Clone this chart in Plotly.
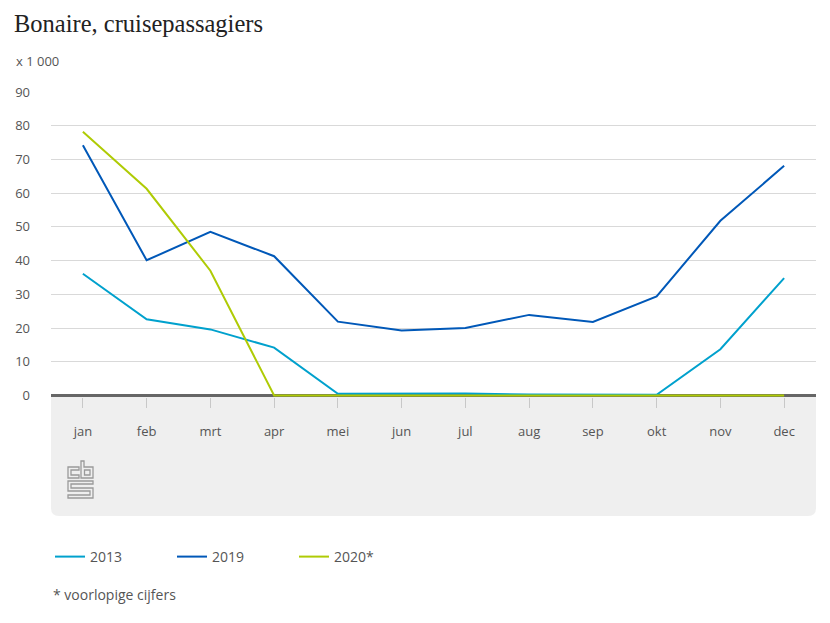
import plotly.graph_objects as go

# ---- data ----
months = ["jan", "feb", "mrt", "apr", "mei", "jun", "jul", "aug", "sep", "okt", "nov", "dec"]
y2013 = [36.1, 22.6, 19.6, 14.2, 0.5, 0.5, 0.6, 0.3, 0.2, 0.2, 13.7, 34.8]
y2019 = [74.2, 40.1, 48.5, 41.3, 21.9, 19.3, 20.0, 23.9, 21.8, 29.4, 51.8, 68.1]
y2020 = [78.2, 61.3, 37.0, 0.0, 0.0, 0.0, 0.0, 0.0, 0.0, 0.0, 0.0, 0.0]
series_names = ["2013", "2019", "2020*"]
series_colors = ["#00a1cd", "#0058b8", "#afcb05"]
y_ticks = [0, 10, 20, 30, 40, 50, 60, 70, 80, 90]

OFF = 8  # page body margin
W, H = 830 - 2 * OFF, 623 - 2 * OFF

def f(v):
    return v - OFF

L, R, T, B = f(51), f(816), f(92), f(397)

def px(x):
    return (f(x) - L) / (R - L)

def py(y):
    return (B - f(y)) / (B - T)

fig = go.Figure()
for name, vals, col in zip(series_names, [y2013, y2019, y2020], series_colors):
    fig.add_trace(go.Scatter(x=list(range(len(months))), y=vals, mode="lines", name=name,
                             line=dict(color=col, width=2), hoverinfo="skip"))

# gray box below the plot
bb = 516
r = 8
box = (f"M {px(51)},{py(397)} L {px(816)},{py(397)} L {px(816)},{py(bb - r)} "
       f"Q {px(816)},{py(bb)} {px(816 - r)},{py(bb)} L {px(51 + r)},{py(bb)} "
       f"Q {px(51)},{py(bb)} {px(51)},{py(bb - r)} Z")
shapes = [dict(type="path", xref="paper", yref="paper", path=box,
               fillcolor="#efefef", line=dict(width=0), layer="below")]

# CBS logo (outline)
ox, oy = 68, 461
def lp(pts, close=True):
    s = "M " + " L ".join(f"{px(ox + a)},{py(oy + b)}" for a, b in pts)
    return s + (" Z" if close else "")
logo_paths = [
    lp([(11, 6), (0, 6), (0, 17), (11, 17), (11, 14), (3, 14), (3, 9), (11, 9)]),
    lp([(13, 0), (16, 0), (16, 6), (25, 6), (25, 17), (13, 17)]),
    lp([(16.5, 9), (22, 9), (22, 14), (16.5, 14)]),
    lp([(25, 20), (0, 20), (0, 30), (22, 30), (22, 34), (0, 34), (0, 37), (25, 37),
        (25, 27), (3, 27), (3, 23), (25, 23)]),
]
for p in logo_paths:
    shapes.append(dict(type="path", xref="paper", yref="paper", path=p,
                       line=dict(color="#9a9a9a", width=1.3), fillcolor="rgba(0,0,0,0)"))

fig.update_layout(
    width=W, height=H,
    margin=dict(l=L, r=W - R, t=T, b=H - B),
    paper_bgcolor="white", plot_bgcolor="white",
    font=dict(family="Open Sans", color="#555555", size=13),
    showlegend=True,
    legend=dict(orientation="h", xref="container", yref="container",
                x=f(50) / W, y=1 - f(557) / H, xanchor="left", yanchor="middle",
                entrywidth=77, entrywidthmode="pixels",
                font=dict(size=14, color="#555555", family="Open Sans")),
    title=dict(text="Bonaire, cruisepassagiers", xref="container", yref="container",
               x=f(14) / W, y=1 - f(23) / H, xanchor="left", yanchor="middle",
               font=dict(family="Liberation Serif", size=24.5, color="#222222")),
    shapes=shapes,
    annotations=[
        dict(text="x 1 000", xref="paper", yref="paper", x=px(14), y=py(61),
             xanchor="left", yanchor="middle", showarrow=False,
             font=dict(size=13, color="#555555")),
        dict(text="* voorlopige cijfers", xref="paper", yref="paper", x=px(51), y=py(594),
             xanchor="left", yanchor="middle", showarrow=False,
             font=dict(size=14, color="#555555")),
    ],
    xaxis=dict(range=[-0.5, 11.5], tickmode="array", tickvals=list(range(len(months))),
               ticktext=months, showgrid=False, zeroline=False, showline=False,
               ticks="outside", ticklen=10, tickcolor="#c8c8c8", tickwidth=1,
               ticklabelstandoff=12, tickfont=dict(size=13, color="#555555"),
               fixedrange=True),
    yaxis=dict(range=[-0.45, 90], tickmode="array", tickvals=y_ticks,
               showgrid=True, gridcolor="#d9d9d9", gridwidth=1,
               zeroline=True, zerolinecolor="#666666", zerolinewidth=3,
               showline=False, ticks="", ticklabelstandoff=20,
               tickfont=dict(size=13, color="#555555"), fixedrange=True),
)

fig.write_html("out.html")
